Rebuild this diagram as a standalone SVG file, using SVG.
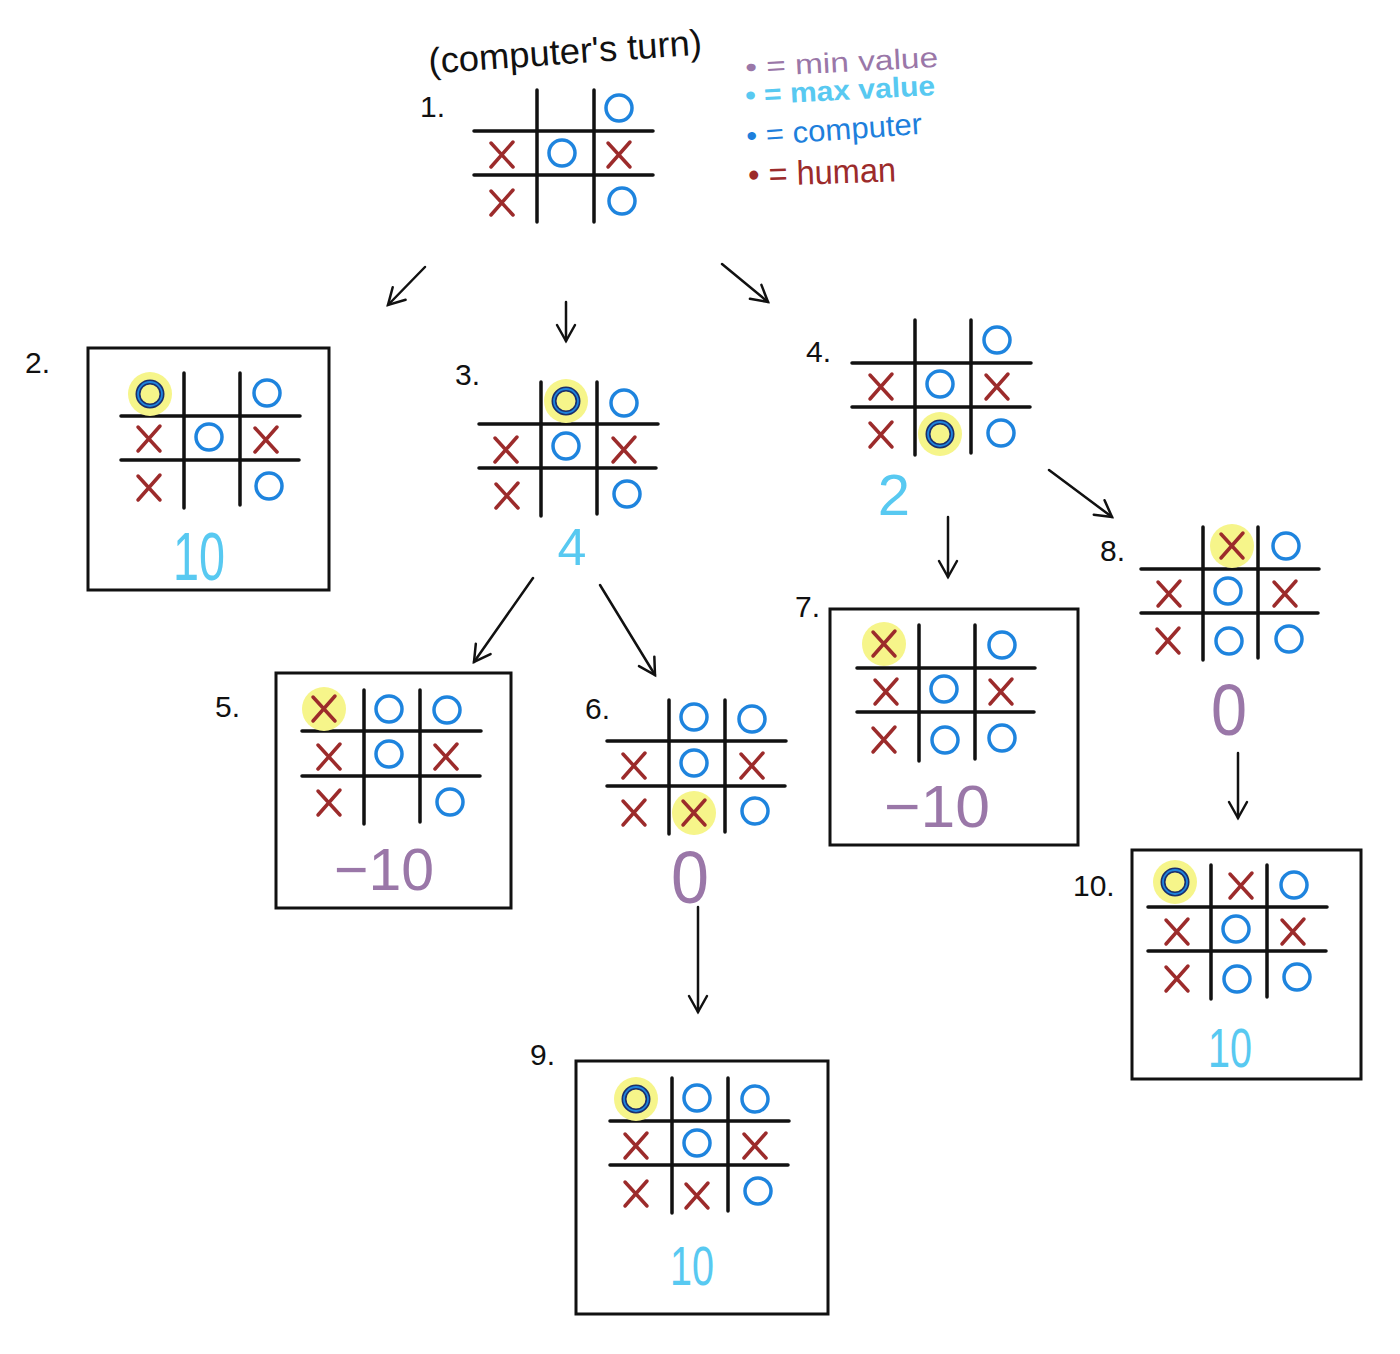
<svg xmlns="http://www.w3.org/2000/svg" xmlns:xlink="http://www.w3.org/1999/xlink" width="1400" height="1354" viewBox="0 0 1400 1354">
<style>
.grid{stroke:#111;stroke-width:3.5;fill:none;stroke-linecap:round}
.box{stroke:#111;stroke-width:3;fill:none}
.xp{stroke:#9c2b2b;stroke-width:3.5;fill:none;stroke-linecap:round}
.op{stroke:#1e84de;stroke-width:3.5;fill:none}
.hl{fill:#f6f58a}
.ohl{stroke:#1b2f6b;stroke-width:5;fill:none}
.ohl2{stroke:#1e84de;stroke-width:1.8;fill:none}
.lbl{font-family:"Liberation Sans",Arial,sans-serif;font-size:30px;fill:#111}
.max{font-family:"Liberation Sans",Arial,sans-serif;fill:#58c9f1;text-anchor:middle}
.min{font-family:"Liberation Sans",Arial,sans-serif;fill:#9a77a8;text-anchor:middle}
.conn{stroke:#111;stroke-width:2.5;fill:none;stroke-linecap:round}
</style>
<defs>
<g id="X"><path class="xp" d="M-11,-12 L11,12 M11,-13 L-11,12"/></g>
<g id="O"><circle class="op" r="13"/></g>
<g id="OH"><circle class="hl" r="22"/><circle class="ohl" r="12"/><circle class="ohl2" r="12"/></g>
<g id="XH"><circle class="hl" r="22"/><path class="xp" d="M-11,-12 L11,12 M11,-13 L-11,12"/></g>
<marker id="arr" markerWidth="24" markerHeight="24" refX="20" refY="12" orient="auto" markerUnits="userSpaceOnUse"><path d="M4,3 L20,12 L4,21" fill="none" stroke="#111" stroke-width="2.5" stroke-linecap="round"/></marker>
</defs>

<g id="title">
<text x="428" y="64" transform="rotate(-4 565 50)" font-family="Liberation Sans, Arial, sans-serif" font-size="36" fill="#111" textLength="274" lengthAdjust="spacingAndGlyphs">(computer's turn)</text>
</g>

<g id="legend" font-family="Liberation Sans, Arial, sans-serif">
<text x="745" y="72" transform="rotate(-3 840 60)" font-size="28" fill="#9a77a8" textLength="193" lengthAdjust="spacingAndGlyphs">• = min value</text>
<text x="745" y="100" transform="rotate(-3 840 88)" font-size="28" font-weight="bold" fill="#58c9f1" textLength="190" lengthAdjust="spacingAndGlyphs">• = max value</text>
<text x="746" y="140" transform="rotate(-4 835 128)" font-size="30" fill="#1e7fdc" textLength="176" lengthAdjust="spacingAndGlyphs">• = computer</text>
<text x="748" y="184" transform="rotate(-2 820 172)" font-size="34" fill="#9c2b2b" textLength="148" lengthAdjust="spacingAndGlyphs">• = human</text>
</g>

<g id="connectors">
<path class="conn" d="M425,267 L388,305" marker-end="url(#arr)"/>
<path class="conn" d="M566,302 L566,341" marker-end="url(#arr)"/>
<path class="conn" d="M722,264 L768,302" marker-end="url(#arr)"/>
<path class="conn" d="M533,578 L474,662" marker-end="url(#arr)"/>
<path class="conn" d="M600,585 L655,675" marker-end="url(#arr)"/>
<path class="conn" d="M948,517 L948,577" marker-end="url(#arr)"/>
<path class="conn" d="M1049,470 L1112,517" marker-end="url(#arr)"/>
<path class="conn" d="M698,907 L698,1012" marker-end="url(#arr)"/>
<path class="conn" d="M1238,753 L1238,818" marker-end="url(#arr)"/>
</g>

<g id="node1">
<text class="lbl" x="420" y="117">1.</text>
<path class="grid" d="M537,90 V222 M594,90 V222 M474,131 H653 M474,175 H653"/>
<use href="#O" x="619" y="108"/>
<use href="#X" x="502" y="155"/>
<use href="#O" x="562" y="153"/>
<use href="#X" x="619" y="155"/>
<use href="#X" x="502" y="203"/>
<use href="#O" x="622" y="201"/>
</g>

<g id="node2">
<text class="lbl" x="25" y="373">2.</text>
<rect class="box" x="88" y="348" width="241" height="242"/>
<path class="grid" d="M184,373 V508 M240,373 V505 M121,416 H300 M121,460 H299"/>
<use href="#OH" x="150" y="394"/>
<use href="#O" x="267" y="393"/>
<use href="#X" x="149" y="439"/>
<use href="#O" x="209" y="437"/>
<use href="#X" x="266" y="440"/>
<use href="#X" x="149" y="488"/>
<use href="#O" x="269" y="486"/>
<text class="max" x="199" y="580" font-size="68" textLength="52" lengthAdjust="spacingAndGlyphs">10</text>
</g>

<g id="node3">
<text class="lbl" x="455" y="385">3.</text>
<path class="grid" d="M541,382 V516 M597,382 V514 M479,424 H658 M479,468 H656"/>
<use href="#OH" x="566" y="401"/>
<use href="#O" x="624" y="403"/>
<use href="#X" x="506" y="450"/>
<use href="#O" x="566" y="446"/>
<use href="#X" x="624" y="450"/>
<use href="#X" x="507" y="496"/>
<use href="#O" x="627" y="494"/>
<text class="max" x="572" y="565" font-size="52">4</text>
</g>

<g id="node4">
<text class="lbl" x="806" y="362">4.</text>
<path class="grid" d="M915,320 V455 M971,320 V453 M852,363 H1031 M852,407 H1030"/>
<use href="#O" x="997" y="340"/>
<use href="#X" x="881" y="387"/>
<use href="#O" x="940" y="384"/>
<use href="#X" x="997" y="387"/>
<use href="#X" x="881" y="435"/>
<use href="#OH" x="940" y="434"/>
<use href="#O" x="1001" y="433"/>
<text class="max" x="894" y="515" font-size="58">2</text>
</g>

<g id="node5">
<text class="lbl" x="215" y="717">5.</text>
<rect class="box" x="276" y="673" width="235" height="235"/>
<path class="grid" d="M364,690 V824 M420,690 V822 M302,731 H481 M302,776 H480"/>
<use href="#XH" x="324" y="709"/>
<use href="#O" x="389" y="709"/>
<use href="#O" x="447" y="710"/>
<use href="#X" x="329" y="757"/>
<use href="#O" x="389" y="754"/>
<use href="#X" x="446" y="757"/>
<use href="#X" x="329" y="803"/>
<use href="#O" x="450" y="802"/>
<text class="min" x="384" y="890" font-size="60" textLength="100" lengthAdjust="spacingAndGlyphs">−10</text>
</g>

<g id="node6">
<text class="lbl" x="585" y="719">6.</text>
<path class="grid" d="M669,700 V834 M725,700 V832 M607,741 H786 M607,786 H785"/>
<use href="#O" x="694" y="717"/>
<use href="#O" x="752" y="719"/>
<use href="#X" x="634" y="766"/>
<use href="#O" x="694" y="763"/>
<use href="#X" x="752" y="766"/>
<use href="#X" x="634" y="813"/>
<use href="#XH" x="694" y="813"/>
<use href="#O" x="755" y="811"/>
<text class="min" x="690" y="903" font-size="74" textLength="38" lengthAdjust="spacingAndGlyphs">0</text>
</g>

<g id="node7">
<text class="lbl" x="795" y="617">7.</text>
<rect class="box" x="830" y="609" width="248" height="236"/>
<path class="grid" d="M919,625 V761 M975,625 V759 M857,668 H1035 M857,712 H1034"/>
<use href="#XH" x="884" y="644"/>
<use href="#O" x="1002" y="645"/>
<use href="#X" x="886" y="692"/>
<use href="#O" x="944" y="689"/>
<use href="#X" x="1001" y="692"/>
<use href="#X" x="884" y="740"/>
<use href="#O" x="945" y="740"/>
<use href="#O" x="1002" y="738"/>
<text class="min" x="937" y="827" font-size="60" textLength="106" lengthAdjust="spacingAndGlyphs">−10</text>
</g>

<g id="node8">
<text class="lbl" x="1100" y="561">8.</text>
<path class="grid" d="M1203,527 V660 M1258,527 V658 M1141,569 H1319 M1141,613 H1318"/>
<use href="#XH" x="1232" y="546"/>
<use href="#O" x="1286" y="546"/>
<use href="#X" x="1169" y="594"/>
<use href="#O" x="1228" y="591"/>
<use href="#X" x="1285" y="594"/>
<use href="#X" x="1168" y="641"/>
<use href="#O" x="1229" y="641"/>
<use href="#O" x="1289" y="639"/>
<text class="min" x="1229" y="735" font-size="72" textLength="36" lengthAdjust="spacingAndGlyphs">0</text>
</g>

<g id="node9">
<text class="lbl" x="530" y="1065">9.</text>
<rect class="box" x="576" y="1061" width="252" height="253"/>
<path class="grid" d="M672,1078 V1213 M728,1078 V1211 M610,1121 H789 M610,1165 H788"/>
<use href="#OH" x="636" y="1099"/>
<use href="#O" x="697" y="1098"/>
<use href="#O" x="755" y="1099"/>
<use href="#X" x="636" y="1146"/>
<use href="#O" x="697" y="1143"/>
<use href="#X" x="755" y="1146"/>
<use href="#X" x="636" y="1194"/>
<use href="#X" x="697" y="1196"/>
<use href="#O" x="758" y="1191"/>
<text class="max" x="692" y="1285" font-size="56" textLength="44" lengthAdjust="spacingAndGlyphs">10</text>
</g>

<g id="node10">
<text class="lbl" x="1073" y="896">10.</text>
<rect class="box" x="1132" y="850" width="229" height="229"/>
<path class="grid" d="M1211,865 V999 M1267,865 V997 M1148,907 H1327 M1148,951 H1326"/>
<use href="#OH" x="1175" y="882"/>
<use href="#X" x="1241" y="886"/>
<use href="#O" x="1294" y="885"/>
<use href="#X" x="1177" y="932"/>
<use href="#O" x="1236" y="929"/>
<use href="#X" x="1293" y="932"/>
<use href="#X" x="1177" y="979"/>
<use href="#O" x="1237" y="979"/>
<use href="#O" x="1297" y="977"/>
<text class="max" x="1230" y="1067" font-size="56" textLength="44" lengthAdjust="spacingAndGlyphs">10</text>
</g>
</svg>
